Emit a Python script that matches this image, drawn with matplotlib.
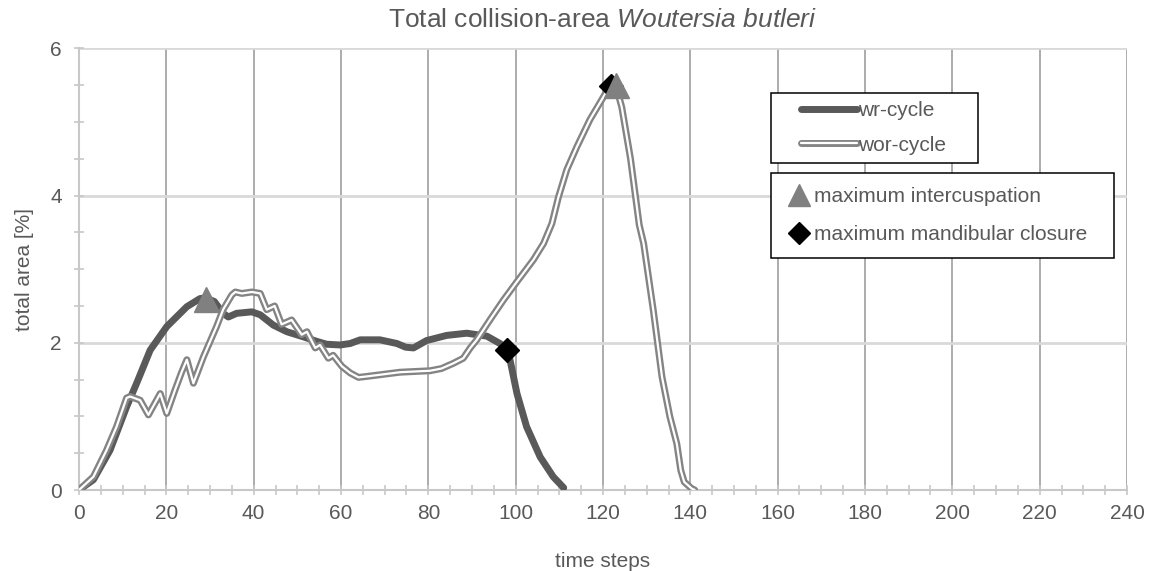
import matplotlib
matplotlib.use("Agg")
import matplotlib.pyplot as plt
import matplotlib.patheffects as pe
from matplotlib.lines import Line2D
from matplotlib.legend_handler import HandlerLine2D
from matplotlib.ticker import MultipleLocator

plt.rcParams['font.family'] = ['Liberation Sans', 'DejaVu Sans']
plt.rcParams['mathtext.fontset'] = 'custom'
plt.rcParams['mathtext.rm'] = 'Liberation Sans'
plt.rcParams['mathtext.it'] = 'Liberation Sans:italic'

# %% data
wr_x = [0, 3.3, 7.1, 10.9, 13.2, 16.3, 20.1, 24.7, 27.7, 29.0, 31.0, 33.0, 34.2,
        36.1, 39.6, 41.5, 44.5, 47.6, 51.4, 54.4, 56.7, 59.8, 62.1, 64.4, 68.9,
        72.8, 74.8, 76.6, 79.6, 84.2, 88.8, 93.4, 96.4, 98.0, 98.7, 100.3, 102.5,
        105.6, 108.6, 111.0]
wr_y = [0.0, 0.14, 0.54, 1.13, 1.45, 1.90, 2.22, 2.49, 2.60, 2.61, 2.56, 2.40, 2.35,
        2.40, 2.42, 2.38, 2.24, 2.15, 2.08, 2.02, 1.98, 1.97, 1.99, 2.04, 2.04,
        1.99, 1.94, 1.93, 2.03, 2.10, 2.13, 2.09, 1.99, 1.90, 1.77, 1.31, 0.86,
        0.45, 0.18, 0.03]

wor_x = [0, 3.3, 6.3, 8.6, 10.9, 11.7, 14.0, 15.9, 18.6, 20.1, 22.0, 23.5, 24.7,
         26.2, 28.5, 31.5, 33.0, 35.0, 35.8, 37.3, 39.6, 41.5, 43.0, 44.8, 46.4,
         48.7, 51.0, 52.2, 54.1, 55.2, 57.1, 58.2, 60.2, 62.1, 64.0, 65.5, 68.2,
         73.5, 80.4, 83.0, 85.7, 88.0, 89.6, 91.1, 94.1, 97.2, 100.3, 104.1, 106.4,
         108.3, 109.8, 111.7, 114.0, 117.0, 120.1, 122.0, 122.6, 124.3, 126.3,
         128.3, 129.3, 131.5, 133.5, 135.3, 136.9, 137.8, 138.6, 140.3, 141.0]
wor_y = [0.0, 0.18, 0.54, 0.86, 1.25, 1.27, 1.22, 1.02, 1.31, 1.04, 1.36, 1.60, 1.77,
         1.45, 1.81, 2.22, 2.45, 2.65, 2.69, 2.67, 2.69, 2.67, 2.45, 2.50, 2.25,
         2.31, 2.11, 2.15, 1.93, 1.97, 1.79, 1.83, 1.68, 1.59, 1.53, 1.54, 1.56,
         1.60, 1.62, 1.65, 1.72, 1.79, 1.93, 2.04, 2.31, 2.58, 2.83, 3.13, 3.35,
         3.62, 3.98, 4.35, 4.66, 5.03, 5.34, 5.53, 5.57, 5.20, 4.50,
         3.60, 3.35, 2.45, 1.54, 1.00, 0.63, 0.27, 0.11, 0.02, 0.0]

# maximum intercuspation / maximum mandibular closure
icp_x = [29.0, 123.0]
icp_y = [2.60, 5.50]
mmc_x = [98.0, 121.9]
mmc_y = [1.90, 5.49]

txt = '#595959'
W, H = 1151, 571


class ShiftedLine(HandlerLine2D):
    # pushes the legend line to the right inside its handle box
    def __init__(self, shift, **kw):
        super().__init__(**kw)
        self.shift = shift

    def create_artists(self, legend, orig_handle, xdescent, ydescent, width,
                       height, fontsize, trans):
        return super().create_artists(legend, orig_handle, xdescent - self.shift,
                                      ydescent, width - self.shift, height,
                                      fontsize, trans)


fig = plt.figure(figsize=(W / 100, H / 100), dpi=100)
ax = fig.add_axes([79 / W, (H - 490) / H, (1127 - 79) / W, (490 - 48.3) / H])

wr_line, = ax.plot(wr_x, wr_y, color='#595959', lw=5, solid_capstyle='round',
                   solid_joinstyle='round', zorder=3, label='wr-cycle')
wor_line, = ax.plot(wor_x, wor_y, color='white', lw=1.6, solid_capstyle='round',
                    solid_joinstyle='round', zorder=4, label='wor-cycle',
                    path_effects=[pe.Stroke(linewidth=5.0, foreground='#848484'),
                                  pe.Normal()])
mmc, = ax.plot(mmc_x, mmc_y, ls='none', marker='D', ms=12.5, color='black',
               mec='black', zorder=5, label='maximum mandibular closure')
icp, = ax.plot(icp_x, icp_y, ls='none', marker='^', ms=18, color='#808080',
               mec='#808080', zorder=6, label='maximum intercuspation')

ax.set_xlim(0, 240)
ax.set_ylim(0, 6)
ax.xaxis.set_major_locator(MultipleLocator(20))
ax.xaxis.set_minor_locator(MultipleLocator(5))
ax.yaxis.set_major_locator(MultipleLocator(2))
ax.yaxis.set_minor_locator(MultipleLocator(0.5))

ax.grid(axis='x', which='major', color='#a6a6a6', lw=1.3)
ax.grid(axis='y', which='major', color='#d9d9d9', lw=2)
ax.set_axisbelow(True)
for s in ['top', 'right']:
    ax.spines[s].set_visible(False)
for s in ['left', 'bottom']:
    ax.spines[s].set_color('#c8c8c8')
    ax.spines[s].set_linewidth(1.5)

ax.tick_params(which='both', direction='inout', length=6.5, width=1.2,
               color='#c8c8c8', labelcolor=txt, labelsize=15)
ax.tick_params(axis='x', pad=7)
ax.tick_params(axis='y', pad=9)

ax.set_xlabel('time steps', fontsize=15, color=txt, labelpad=21)
ax.set_ylabel('total area [%]', fontsize=15, color=txt, labelpad=12)
ax.set_title(r'Total collision-area $\mathit{Woutersia\ butleri}$', fontsize=19,
             color=txt, pad=15)

leg1 = ax.legend(handles=[wr_line, wor_line], loc='upper left',
                 bbox_to_anchor=(771 / W, 1 - 93 / H, 207 / W, 0),
                 bbox_transform=fig.transFigure, mode='expand', borderaxespad=0,
                 fontsize=15, labelcolor=txt, frameon=True, fancybox=False,
                 edgecolor='black', framealpha=1, borderpad=0.39,
                 labelspacing=0.74, handlelength=3.75, handletextpad=0.05,
                 handler_map={Line2D: ShiftedLine(16)})
leg1.get_frame().set_linewidth(1.1)
ax.add_artist(leg1)

leg2 = ax.legend(handles=[icp, mmc], loc='upper left',
                 bbox_to_anchor=(771 / W, 1 - 173.3 / H, 343 / W, 0),
                 bbox_transform=fig.transFigure, mode='expand', borderaxespad=0,
                 fontsize=15, labelcolor=txt, frameon=True, fancybox=False,
                 edgecolor='black', framealpha=1, borderpad=0.66,
                 labelspacing=0.93, handlelength=1.375, handletextpad=0.05,
                 numpoints=1, markerscale=0.87)
leg2.get_frame().set_linewidth(1.1)

fig.savefig('out.png', dpi=100)
